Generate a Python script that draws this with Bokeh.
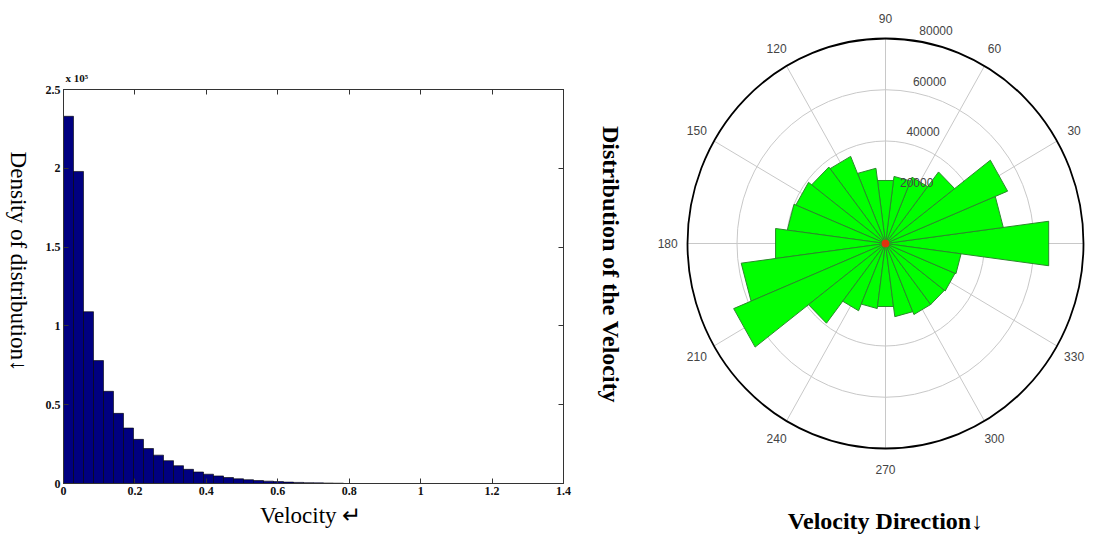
import numpy as np
from bokeh.plotting import figure
from bokeh.layouts import row
from bokeh.models import Range1d, LinearAxis, FixedTicker, CustomJSTickFormatter, Title
from bokeh.core.properties import value
from bokeh.embed import file_html
from bokeh.resources import INLINE

# ---------------- data ----------------
velocity_bin_width = 0.028
density_x1e5 = [2.33, 1.98, 1.09, 0.78, 0.585, 0.445, 0.352, 0.280, 0.222, 0.180,
                0.145, 0.113, 0.090, 0.073, 0.059, 0.048, 0.038, 0.030, 0.024, 0.019,
                0.015, 0.012, 0.009, 0.007, 0.005, 0.004, 0.003, 0.002]
velocity_ticks = [0, 0.2, 0.4, 0.6, 0.8, 1.0, 1.2, 1.4]
density_ticks = [0, 0.5, 1, 1.5, 2, 2.5]

direction_deg = list(range(0, 360, 15))
direction_counts = [66500, 48000, 53400, 35200, 28000, 26400, 24800, 29600,
                    36800, 37600, 39200, 40000, 44800, 58800, 66400, 39200,
                    28400, 25600, 24800, 28800, 30000, 30000, 30400, 30800]
ring_values = [20000, 40000, 60000, 80000]
angle_label_deg = list(range(0, 360, 30))

SERIF = "Liberation Serif"
SANS = "Liberation Sans"
H = 534


def no_align(f):
    try:
        f.frame_align = False
    except Exception:
        pass


def bare(width, xr, yr):
    f = figure(width=width, height=H, x_range=xr, y_range=yr, output_backend="svg",
               toolbar_location=None, x_axis_type=None, y_axis_type=None, min_border=0)
    f.grid.visible = False
    f.outline_line_color = None
    f.title.visible = False
    no_align(f)
    return f


# ---------------- left vertical label ----------------
pl = bare(42, Range1d(0, 42), Range1d(0, H))
pl.text(x=[18], y=[H - 261], text=["Density of distribution\u2193"], angle=-np.pi / 2,
        text_align="center", text_baseline="middle", text_font=value(SERIF),
        text_font_size="23px", text_color="black")

# ---------------- histogram ----------------
p1 = figure(width=548, height=H, x_range=Range1d(0, 1.4), y_range=Range1d(0, 2.5),
            output_backend="svg", toolbar_location=None,
            min_border_left=20, min_border_right=27, min_border_top=89, min_border_bottom=H - 483)
no_align(p1)
p1.grid.visible = False
p1.outline_line_color = "#333333"

left_edges = [i * velocity_bin_width for i in range(len(density_x1e5))]
right_edges = [e + velocity_bin_width for e in left_edges]
p1.quad(left=left_edges, right=right_edges, bottom=0, top=density_x1e5,
        fill_color="#000080", line_color="black", line_width=0.6)

fmt = CustomJSTickFormatter(code="return String(Math.round(tick*10)/10)")
for ax in (p1.xaxis[0], p1.yaxis[0]):
    ax.formatter = fmt
    ax.major_tick_in = 5
    ax.major_tick_out = 0
    ax.minor_tick_line_color = None
    ax.axis_line_color = "#333333"
    ax.major_tick_line_color = "#333333"
    ax.major_label_text_font = SERIF
    ax.major_label_text_font_style = "bold"
    ax.major_label_text_font_size = "12px"
    ax.major_label_text_color = "#111111"
    ax.major_label_standoff = 3
p1.xaxis[0].ticker = FixedTicker(ticks=velocity_ticks)
p1.yaxis[0].ticker = FixedTicker(ticks=density_ticks)

for loc, ticks in (("above", velocity_ticks), ("right", density_ticks)):
    ax = LinearAxis(ticker=FixedTicker(ticks=ticks), major_label_text_font_size="1px",
                    major_label_text_color=None, major_tick_in=5, major_tick_out=0,
                    minor_tick_line_color=None, major_label_standoff=0,
                    axis_line_color="#333333", major_tick_line_color="#333333")
    p1.add_layout(ax, loc)

p1.title.text = "x 10\u2075"
p1.title.align = "left"
p1.title.offset = 2
p1.title.text_font = SERIF
p1.title.text_font_style = "bold"
p1.title.text_font_size = "11px"
p1.title.text_color = "#111111"
p1.title.standoff = 11

p1.add_layout(Title(text="Velocity  \u21b5", align="center", offset=50, text_font=SERIF,
                    text_font_style="normal", text_font_size="23px", text_color="black",
                    standoff=6), "below")

# ---------------- middle vertical title ----------------
pm = bare(40, Range1d(0, 40), Range1d(0, H))
pm.text(x=[20], y=[H - 264], text=["Distribution of the Velocity"], angle=-np.pi / 2,
        text_align="center", text_baseline="middle", text_font=value(SERIF),
        text_font_style="bold", text_font_size="24px", text_color="black")

# ---------------- rose plot ----------------
rmax = ring_values[-1]
sx = 198 / rmax   # px per unit horizontally
sy = 205 / rmax   # px per unit vertically
W2 = 469
cx_px, cy_px = 885 - 630, 243  # centre offset from left / top of this figure
p2 = bare(W2, Range1d(-cx_px / sx, (W2 - cx_px) / sx), Range1d(-(H - cy_px) / sy, cy_px / sy))

# grid rings and spokes
p2.ellipse(x=0, y=0, width=[2 * v for v in ring_values[:-1]], height=[2 * v for v in ring_values[:-1]],
           fill_color=None, line_color="#c8c8c8", line_width=1)
sp = np.radians(angle_label_deg)
p2.segment(x0=0, y0=0, x1=rmax * np.cos(sp), y1=rmax * np.sin(sp), line_color="#c8c8c8", line_width=1)

# wedges
half = 7.5
xs, ys = [], []
for c, r in zip(direction_deg, direction_counts):
    t1, t2 = np.radians(c - half), np.radians(c + half)
    xs.append([0, r * np.cos(t1), r * np.cos(t2)])
    ys.append([0, r * np.sin(t1), r * np.sin(t2)])
p2.patches(xs=xs, ys=ys, fill_color="#00ff00", line_color="#2a8a2a", line_width=1)

# outer circle
p2.ellipse(x=0, y=0, width=2 * rmax, height=2 * rmax, fill_color=None, line_color="black", line_width=1.8)

# centre dot
p2.scatter(x=[0], y=[0], size=7, color="#e03010")

# angle labels
la = np.radians(angle_label_deg)
p2.text(x=1.1 * rmax * np.cos(la), y=1.1 * rmax * np.sin(la), text=[str(a) for a in angle_label_deg],
        text_align="center", text_baseline="middle", text_font=value(SANS),
        text_font_size="12px", text_color="#444444")

# radius labels
rl = np.radians(82.5)
p2.text(x=[v * np.cos(rl) for v in ring_values], y=[v * np.sin(rl) for v in ring_values],
        text=[str(v) for v in ring_values], x_offset=8, y_offset=-10,
        text_align="left", text_baseline="middle", text_font=value(SANS),
        text_font_size="12px", text_color="#444444")

# bottom title
p2.text(x=[0], y=[-(520 - cy_px) / sy], text=["Velocity Direction\u2193"],
        text_align="center", text_baseline="alphabetic", text_font=value(SERIF),
        text_font_style="bold", text_font_size="24px", text_color="black")

layout = row(pl, p1, pm, p2)
open("out.html", "w").write(file_html(layout, INLINE))
